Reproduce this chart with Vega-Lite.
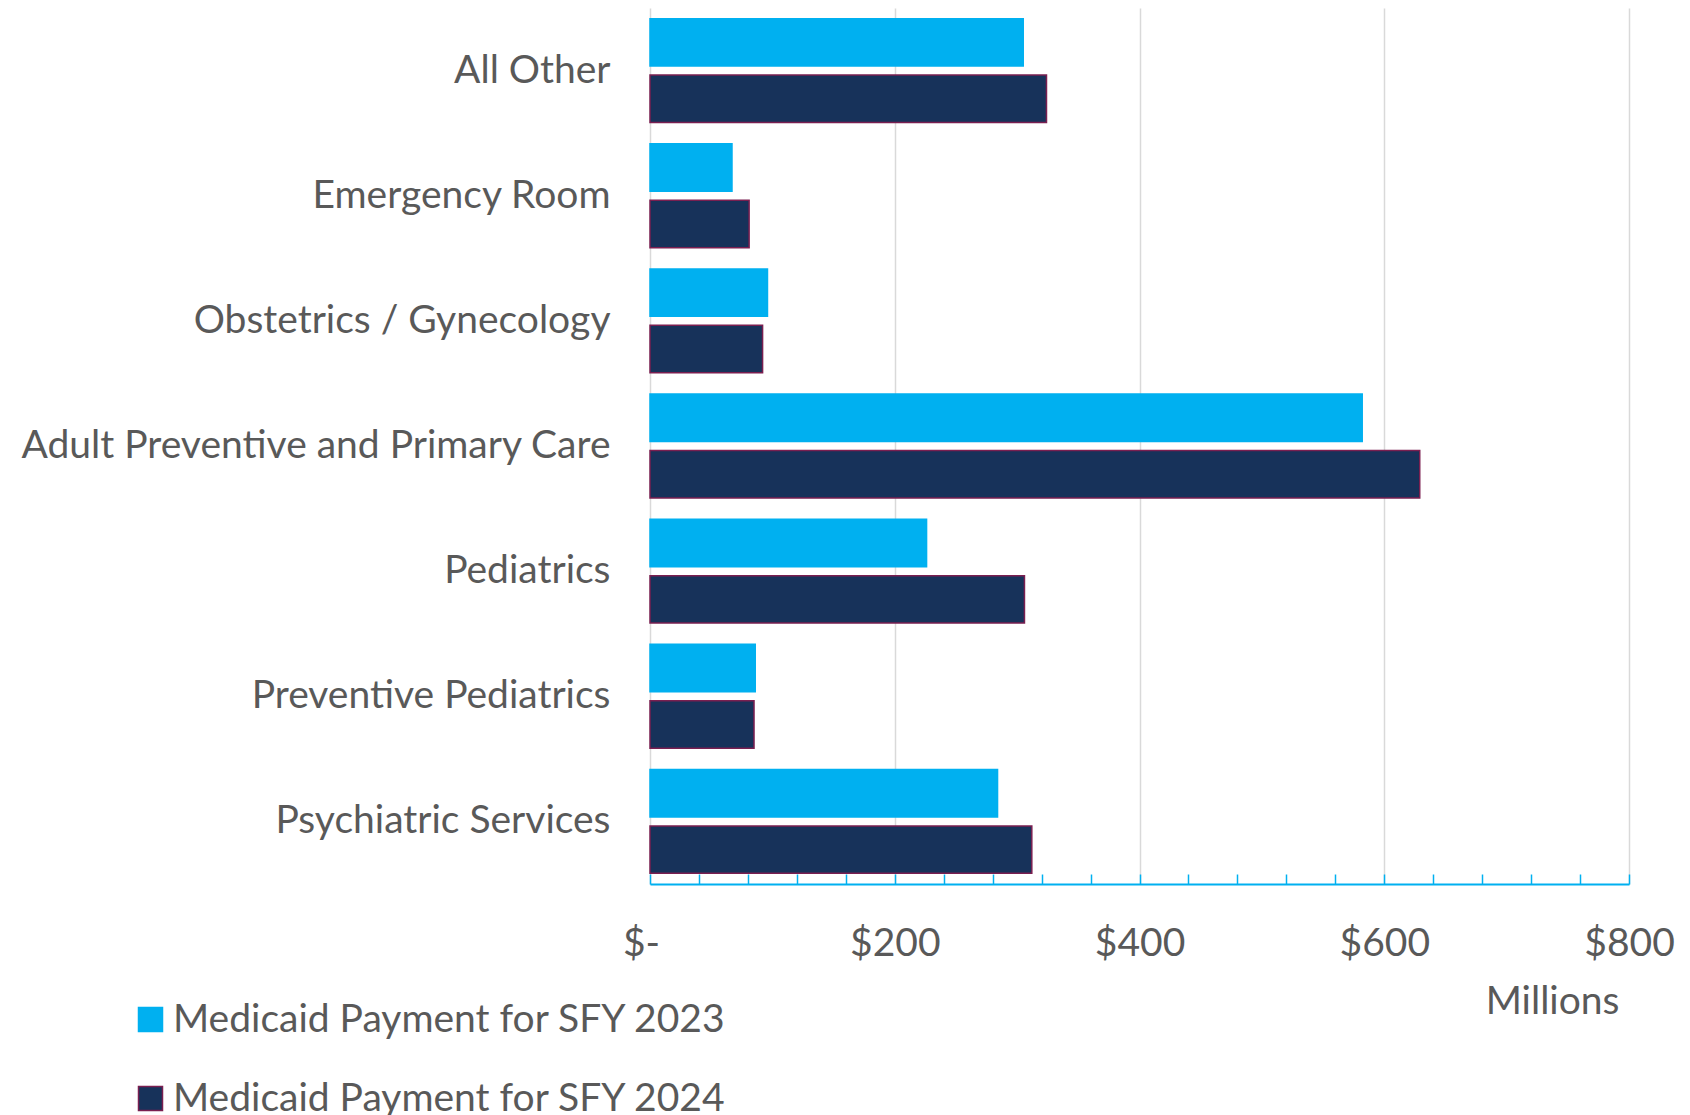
{
  "$schema": "https://vega.github.io/schema/vega-lite/v6.json",
  "width": 979,
  "height": 876,
  "autosize": {"type": "none"},
  "padding": {"left": 650, "top": 8, "right": 61, "bottom": 231},
  "background": "white",
  "config": {
    "view": {"stroke": null},
    "font": "Lato",
    "text": {"color": "#595959"}
  },
  "data": {
    "values": [
      {"category": "All Other", "series": "Medicaid Payment for SFY 2023", "value": 305},
      {"category": "All Other", "series": "Medicaid Payment for SFY 2024", "value": 324},
      {"category": "Emergency Room", "series": "Medicaid Payment for SFY 2023", "value": 67},
      {"category": "Emergency Room", "series": "Medicaid Payment for SFY 2024", "value": 81},
      {"category": "Obstetrics / Gynecology", "series": "Medicaid Payment for SFY 2023", "value": 96},
      {"category": "Obstetrics / Gynecology", "series": "Medicaid Payment for SFY 2024", "value": 92},
      {"category": "Adult Preventive and Primary Care", "series": "Medicaid Payment for SFY 2023", "value": 582},
      {"category": "Adult Preventive and Primary Care", "series": "Medicaid Payment for SFY 2024", "value": 629},
      {"category": "Pediatrics", "series": "Medicaid Payment for SFY 2023", "value": 226},
      {"category": "Pediatrics", "series": "Medicaid Payment for SFY 2024", "value": 306},
      {"category": "Preventive Pediatrics", "series": "Medicaid Payment for SFY 2023", "value": 86},
      {"category": "Preventive Pediatrics", "series": "Medicaid Payment for SFY 2024", "value": 85},
      {"category": "Psychiatric Services", "series": "Medicaid Payment for SFY 2023", "value": 284},
      {"category": "Psychiatric Services", "series": "Medicaid Payment for SFY 2024", "value": 312}
    ]
  },
  "mark": {"type": "bar", "strokeWidth": 1.5},
  "encoding": {
    "y": {
      "field": "category",
      "type": "nominal",
      "sort": null,
      "scale": {"paddingInner": 0.17, "paddingOuter": 0.085},
      "axis": {
        "title": null,
        "ticks": false,
        "domain": false,
        "labelPadding": 40,
        "labelFontSize": 39,
        "labelColor": "#595959",
        "labelFont": "Lato",
        "labelLimit": 700
      }
    },
    "yOffset": {
      "field": "series",
      "type": "nominal",
      "scale": {"paddingInner": 0.16, "paddingOuter": 0}
    },
    "x": {
      "field": "value",
      "type": "quantitative",
      "scale": {"domain": [0, 800], "nice": false},
      "axis": {
        "title": "Millions",
        "titleFontSize": 39,
        "titleFontWeight": "normal",
        "titleColor": "#595959",
        "titleFont": "Lato",
        "titleAnchor": "end",
        "titleAlign": "right",
        "titleX": 969,
        "titleY": 117,
        "titleBaseline": "middle",
        "values": [0, 40, 80, 120, 160, 200, 240, 280, 320, 360, 400, 440, 480, 520, 560, 600, 640, 680, 720, 760, 800],
        "labelExpr": "datum.value % 200 === 0 ? (datum.value === 0 ? '$-' : '$' + datum.value) : ''",
        "labelFontSize": 39,
        "labelColor": "#595959",
        "labelFont": "Lato",
        "labelPadding": 50,
        "labelOffset": {"condition": {"test": "datum.value === 0", "value": -9}, "value": 0},
        "labelFlush": false,
        "labelOverlap": false,
        "grid": true,
        "gridColor": "#D9D9D9",
        "gridWidth": 1.5,
        "gridOpacity": {"condition": {"test": "datum.value % 200 === 0", "value": 1}, "value": 0},
        "domainColor": "#00B0F0",
        "domainWidth": 2,
        "tickColor": "#00B0F0",
        "tickWidth": 1.5,
        "tickSize": -10
      }
    },
    "color": {
      "field": "series",
      "type": "nominal",
      "scale": {"range": ["#00B0F0", "#17325A"]},
      "legend": {
        "title": null,
        "orient": "none",
        "legendX": -519,
        "legendY": 992,
        "symbolType": "square",
        "symbolSize": 576,
        "symbolStrokeWidth": 1.5,
        "labelFontSize": 39,
        "labelColor": "#595959",
        "labelFont": "Lato",
        "labelOffset": 3,
        "rowPadding": 39,
        "labelLimit": 800
      }
    },
    "stroke": {
      "field": "series",
      "type": "nominal",
      "scale": {"range": ["#00B0F0", "#7A1F50"]},
      "legend": null
    }
  }
}
